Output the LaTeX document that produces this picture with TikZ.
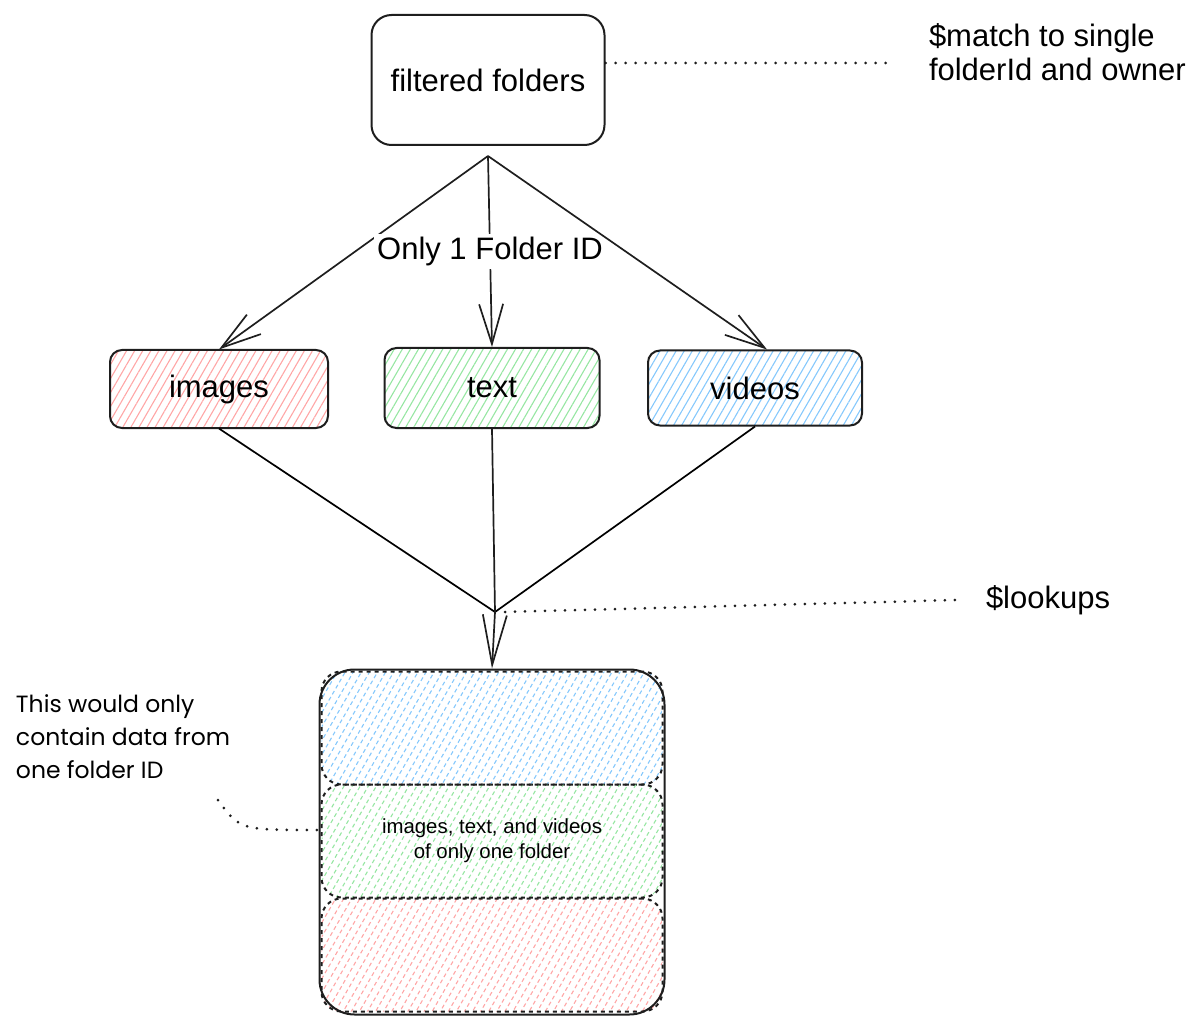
\documentclass[tikz,border=0pt]{standalone}
\usepackage{fontspec}
\setmainfont{Liberation Sans}
\newfontfamily\handfont{Poppins}
\usetikzlibrary{arrows.meta, patterns.meta}
\definecolor{ink}{HTML}{1E1E1E}
\definecolor{hred}{HTML}{FFA6A6}
\definecolor{hgreen}{HTML}{96E6A2}
\definecolor{hblue}{HTML}{85C8FC}
\tikzset{
  every picture/.style={line width=2pt},
  hatch/.style={pattern={Lines[angle=60, distance=7pt, line width=1.1pt]}, pattern color=#1},
  card/.style={draw=ink, rounded corners=12pt, inner sep=0pt, font=\fontsize{31}{36}\selectfont},
  band/.style={hatch=#1, draw=ink, dash pattern=on 4pt off 4pt, rounded corners=20pt, minimum width=341pt, minimum height=113pt, inner sep=0pt},
  arrow/.style={-{Straight Barb[length=#1, width=24pt]}, draw=ink, line width=1.7pt},
  arrow/.default=40pt,
  dots/.style={draw=ink, dash pattern=on 0pt off 10pt, line cap=round, line width=3pt},
  note/.style={font=\fontsize{31}{34}\selectfont, align=left, inner sep=0pt},
}
\begin{document}
\begin{tikzpicture}[x=1pt, y=-1pt]
  \useasboundingbox (0,0) rectangle (1200,1032);
  % query stage
  \node[card, rounded corners=20pt, minimum width=233pt, minimum height=130pt] (filtered) at (488,80) {filtered folders};
  \node[note, anchor=north west] (match) at (928,23) {\$match to single\\folderId and owner};
  \coordinate (matchend) at (888,63);
  \draw[dots] ([yshift=17pt]filtered.east) -- (matchend);
  % collections
  \node[card, hatch=hred, minimum width=218pt, minimum height=78pt] (images) at (219,389) {images};
  \node[card, hatch=hgreen, minimum width=215pt, minimum height=80pt] (texts) at (492,388) {text};
  \node[card, hatch=hblue, minimum width=214pt, minimum height=75pt] (videos) at (755,388) {videos};
  \draw[arrow] ([yshift=-10pt]filtered.south) -- (images.north);
  \draw[arrow] ([yshift=-10pt]filtered.south) -- node[note, fill=white, inner sep=3pt] (onlyid) {Only 1 Folder ID} (texts.north);
  \draw[arrow] ([yshift=-10pt]filtered.south) -- ([xshift=12pt]videos.north);
  % result
  \node[band=hblue] (blueband) at (492,728) {};
  \node[band=hgreen, align=center, font=\fontsize{20.4}{25}\selectfont] (greenband) at (492,841) {images, text, and videos\\of only one folder};
  \node[band=hred] (redband) at (492,955) {};
  \node[draw=ink, rounded corners=35pt, minimum size=345pt, inner sep=0pt] (stack) at (492,842) {};
  \coordinate (merge) at (495,612);
  \draw[line width=1.7pt] (images.south) -- (merge);
  \draw[line width=1.7pt] (videos.south) -- (merge);
  \draw[arrow=50pt] (texts.south) -- (merge) -- (stack.north);
  \node[note, anchor=west] (lookups) at (985,600) {\$lookups};
  \draw[dots] ([xshift=10pt]merge) -- ([xshift=-28pt]lookups.west);
  % side note
  \node[font=\handfont\fontsize{23.5}{33}\selectfont, align=left, anchor=north west, inner sep=0pt] (folderid) at (15,694) {This would only\\contain data from\\one folder ID};
  \coordinate (noteend) at (218,800);
  \draw[dots] (noteend) .. controls (240,830) .. ([yshift=12pt]stack.west);
\end{tikzpicture}
\end{document}
